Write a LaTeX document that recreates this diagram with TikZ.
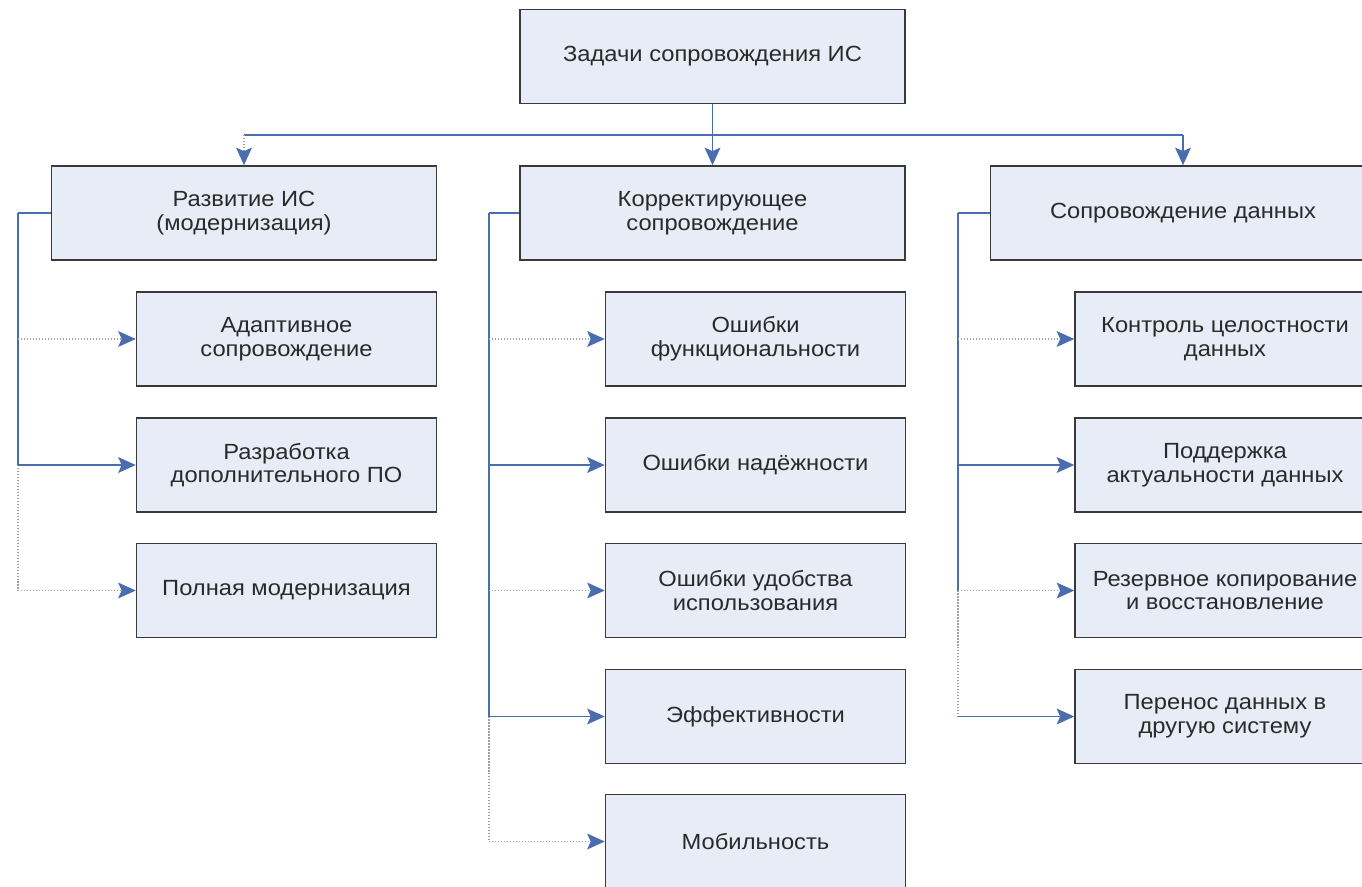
\documentclass[tikz,border=0pt]{standalone}
\usepackage{fontspec}
\setmainfont{Liberation Sans}[FakeStretch=1.08]
\usetikzlibrary{arrows.meta}
\definecolor{boxfill}{HTML}{E7ECF6}
\definecolor{boxline}{HTML}{3A3A3A}
\definecolor{linkblue}{HTML}{4A6DB0}
\definecolor{txt}{HTML}{2A2A2A}
\begin{document}
\begin{tikzpicture}[x=0.02cm,y=-0.02cm,
  box/.style={draw=boxline,fill=boxfill,line width=0.9pt,align=center,text=txt,
    font=\fontsize{12.5}{13.5}\selectfont,inner sep=2pt},
  bigbox/.style={box,minimum width=7.7cm,minimum height=1.88cm},
  subbox/.style={box,minimum width=6cm,minimum height=1.88cm},
  link/.style={draw=linkblue,line width=0.9pt},
  spine/.style={draw=linkblue,line width=1.4pt},
  faint/.style={draw=gray!75,line width=0.7pt,densely dotted},
  tip/.style={-{Stealth[length=10pt,width=9pt,inset=2pt,color=linkblue]}}
]
\useasboundingbox (0,0) rectangle (1362,886);
\fill[white] (0,0) rectangle (1362,886);

% top
\node[bigbox] (top) at (712.5,56.5) {Задачи сопровождения ИС};

% level 2
\node[bigbox] (L) at (244,213) {Развитие ИС\\(модернизация)};
\node[bigbox] (M) at (712.5,213) {Корректирующее\\сопровождение};
\node[bigbox] (R) at (1183,213) {Сопровождение данных};

% left column
\node[subbox] (L1) at (286.5,339) {Адаптивное\\сопровождение};
\node[subbox] (L2) at (286.5,465) {Разработка\\дополнительного ПО};
\node[subbox] (L3) at (286.5,590.5) {Полная модернизация};

% middle column
\node[subbox] (M1) at (755.5,339) {Ошибки\\функциональности};
\node[subbox] (M2) at (755.5,465) {Ошибки надёжности};
\node[subbox] (M3) at (755.5,590.5) {Ошибки удобства\\использования};
\node[subbox] (M4) at (755.5,716.5) {Эффективности};
\node[subbox] (M5) at (755.5,841.5) {Мобильность};

% right column
\node[subbox] (R1) at (1225,339) {Контроль целостности\\данных};
\node[subbox] (R2) at (1225,465) {Поддержка\\актуальности данных};
\node[subbox] (R3) at (1225,590.5) {Резервное копирование\\и восстановление};
\node[subbox] (R4) at (1225,716.5) {Перенос данных в\\другую систему};

% top bus
\coordinate (bus) at (712.5,135);
\coordinate (busL) at (244,135);
\coordinate (busR) at (1183,135);
\draw[spine,line width=1.1pt] (top.south) -- (bus);
\draw[link,line width=0.7pt] (busL) -- (busR);
\draw[faint,tip] (busL) -- (L.north);
\draw[link,tip] (bus) -- (M.north);
\draw[link,tip] (busR) -- (R.north);

% left spine
\coordinate (ls0) at (18,213);
\coordinate (ls1) at (18,339);
\coordinate (ls2) at (18,465);
\coordinate (ls3) at (18,590.5);
\draw[link] (L.west) -- (ls0);
\draw[spine] (ls0) -- (ls2);
\draw[faint] (ls2) -- (ls3);
\draw[faint,tip] (ls1) -- (L1.west);
\draw[link,tip] (ls2) -- (L2.west);
\draw[faint,tip] (ls3) -- (L3.west);

% middle spine
\coordinate (ms0) at (489,213);
\coordinate (ms1) at (489,339);
\coordinate (ms2) at (489,465);
\coordinate (ms3) at (489,590.5);
\coordinate (ms4) at (489,716.5);
\coordinate (ms5) at (489,841.5);
\draw[link] (M.west) -- (ms0);
\draw[spine] (ms0) -- (ms4);
\draw[faint] (ms4) -- (ms5);
\draw[faint,tip] (ms1) -- (M1.west);
\draw[link,tip] (ms2) -- (M2.west);
\draw[faint,tip] (ms3) -- (M3.west);
\draw[link,tip] (ms4) -- (M4.west);
\draw[faint,tip] (ms5) -- (M5.west);

% right spine
\coordinate (rs0) at (958,213);
\coordinate (rs1) at (958,339);
\coordinate (rs2) at (958,465);
\coordinate (rs3) at (958,590.5);
\coordinate (rs4) at (958,716.5);
\draw[link] (R.west) -- (rs0);
\draw[spine] (rs0) -- (rs3);
\draw[faint] (rs3) -- (rs4);
\draw[faint,tip] (rs1) -- (R1.west);
\draw[link,tip] (rs2) -- (R2.west);
\draw[faint,tip] (rs3) -- (R3.west);
\draw[link,tip] (rs4) -- (R4.west);
\end{tikzpicture}
\end{document}
